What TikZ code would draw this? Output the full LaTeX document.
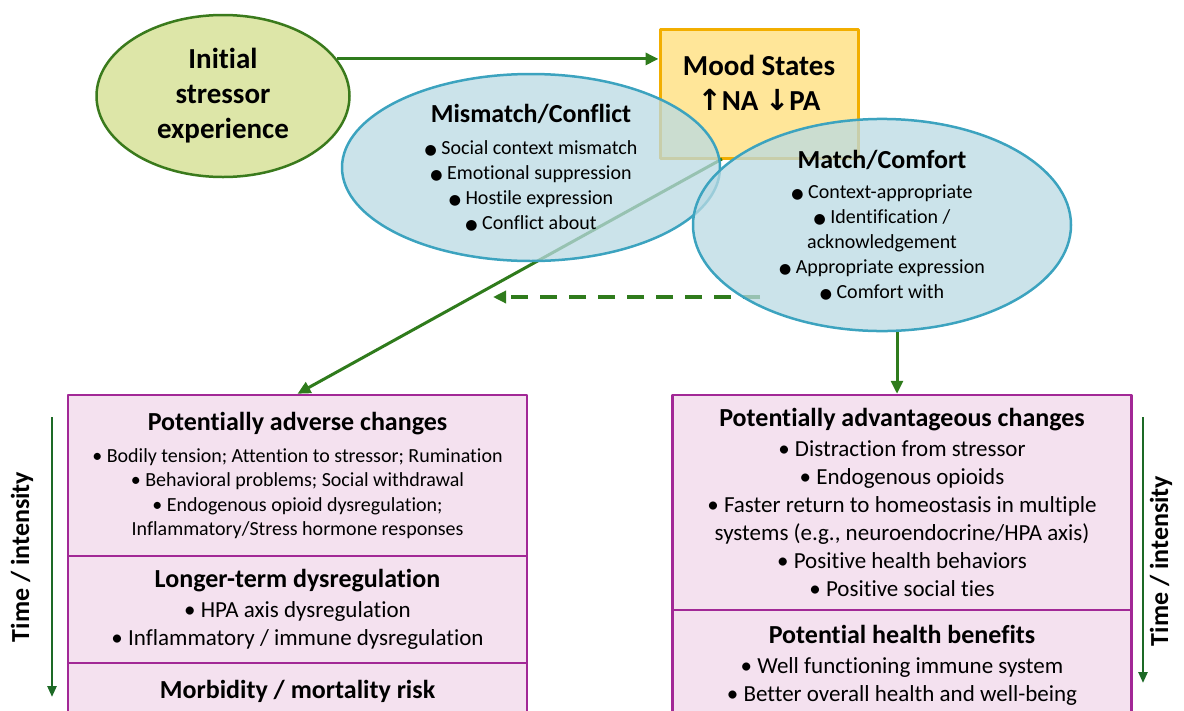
\documentclass[tikz,border=0pt]{standalone}
\usepackage{fontspec}
\setmainfont{Carlito}[Ligatures=NoCommon]
\newfontfamily\symfont{DejaVu Sans}
\usetikzlibrary{shapes.geometric,arrows.meta}
\definecolor{arrgreen}{HTML}{2F7B1C}
\definecolor{timegreen}{HTML}{1D6A26}
\definecolor{stressfill}{HTML}{DDE6A8}
\definecolor{stressline}{HTML}{3A7A1C}
\definecolor{moodfill}{HTML}{FFE699}
\definecolor{moodline}{HTML}{F2AE00}
\definecolor{cloudfill}{HTML}{BADAE3}
\definecolor{cloudline}{HTML}{3CA3BF}
\definecolor{panelfill}{HTML}{F4E1EF}
\definecolor{panelline}{HTML}{A22896}
\newcommand\hd[1]{{\fontsize{26}{31}\selectfont\bfseries #1}}
\newcommand\bigdot{{\symfont\fontsize{14}{14}\selectfont ●}}
\newcommand\arr[1]{{\symfont #1}}

\begin{document}
\begin{tikzpicture}[x=1pt,y=-1pt,>={Triangle[length=13pt,width=12pt]},line join=round,
  stressor/.style={ellipse,draw=stressline,fill=stressfill,line width=2.5pt,inner sep=0pt,
    minimum width=253pt,minimum height=162pt,align=center,font=\fontsize{29}{35}\selectfont\bfseries},
  moodbox/.style={rectangle,draw=moodline,fill=moodfill,line width=3pt,minimum width=198pt,minimum height=129pt},
  moodtext/.style={align=center,font=\fontsize{29}{35}\selectfont\bfseries},
  cloud/.style={ellipse,draw=cloudline,fill=cloudfill,fill opacity=0.75,text opacity=1,line width=2.5pt,
    inner sep=0pt,minimum width=378pt,minimum height=187pt,align=center,font=\fontsize{20}{25}\selectfont},
  panel/.style={rectangle,draw=panelline,fill=panelfill,line width=2.5pt,minimum width=459pt,
    inner sep=0pt,align=center,font=\fontsize{23}{28}\selectfont},
  flow/.style={draw=arrgreen,line width=3pt},
  timeflow/.style={draw=timegreen,line width=2.5pt,>={Triangle[length=11pt,width=9pt]}},
  timelabel/.style={rotate=90,font=\fontsize{26}{31}\selectfont\bfseries}]
  \useasboundingbox (0,0) rectangle (1184,710);
  \clip (0,0) rectangle (1184,710);
  \path (722,159) coordinate (moodfoot)
    (760,297) coordinate (dashstart) (493,297) coordinate (dashend)
    (52,417) coordinate (timeLtop) (52,697) coordinate (timeLbot)
    (1143,417) coordinate (timeRtop) (1143,683) coordinate (timeRbot);

  \node[stressor] (stress) at (223,96) {Initial\\stressor\\experience};
  \node[moodbox] (mood) at (759,93.5) {};
  \node[moodtext] (moodtxt) at (759,82.5) {Mood States\\\arr{↑}NA \arr{↓}PA};
  \draw[flow,->] (stress.18) -- (stress.18 -| mood.west);

  % lower panels
  \node[panel,minimum height=161pt,font=\fontsize{20}{24.5}\selectfont] (adverse) at (297.5,475.5)
    {\hd{Potentially adverse changes}\\[7pt]
     • Bodily tension; Attention to stressor; Rumination\\
     • Behavioral problems; Social withdrawal\\
     • Endogenous opioid dysregulation;\\
     Inflammatory/Stress hormone responses};
  \node[panel,minimum height=107pt] (longer) at (297.5,609.5)
    {\hd{Longer-term dysregulation}\\[2pt]
     • HPA axis dysregulation\\
     • Inflammatory / immune dysregulation};
  \node[panel,minimum height=56pt] (morbid) at (297.5,691) {\hd{Morbidity / mortality risk}};
  \node[panel,minimum height=215pt] (advant) at (902,502.5)
    {\hd{Potentially advantageous changes}\\[2pt]
     • Distraction from stressor\\
     • Endogenous opioids\\
     • Faster return to homeostasis in multiple\\
     systems (e.g., neuroendocrine/HPA axis)\\
     • Positive health behaviors\\
     • Positive social ties};
  \node[panel,minimum height=110pt] (benefit) at (902,665)
    {\hd{Potential health benefits}\\[2pt]
     • Well functioning immune system\\
     • Better overall health and well-being};

  \draw[flow,->] (moodfoot) -- (adverse.north);
  \draw[flow,line width=4.5pt,dash pattern=on 17pt off 12pt,->] (dashstart) -- (dashend);

  \node[cloud] (mismatch) at (531,167.5)
    {\hd{Mismatch/Conflict}\\[7pt]
     \bigdot{} Social context mismatch\\
     \bigdot{} Emotional suppression\\
     \bigdot{} Hostile expression\\
     \bigdot{} Conflict about};
  \node[cloud] (match) at (882,225)
    {\hd{Match/Comfort}\\[5pt]
     \bigdot{} Context-appropriate\\
     \bigdot{} Identification /\\
     acknowledgement\\
     \bigdot{} Appropriate expression\\
     \bigdot{} Comfort with};
  \draw[flow,->] ([xshift=15pt]match.south) -- ([xshift=15pt]match.south |- advant.north);

  \draw[timeflow,->] (timeLtop) -- (timeLbot);
  \draw[timeflow,->] (timeRtop) -- (timeRbot);
  \node[timelabel] (timeL) at (22,557) {Time / intensity};
  \node[timelabel] (timeR) at (1161,561) {Time / intensity};
\end{tikzpicture}
\end{document}
